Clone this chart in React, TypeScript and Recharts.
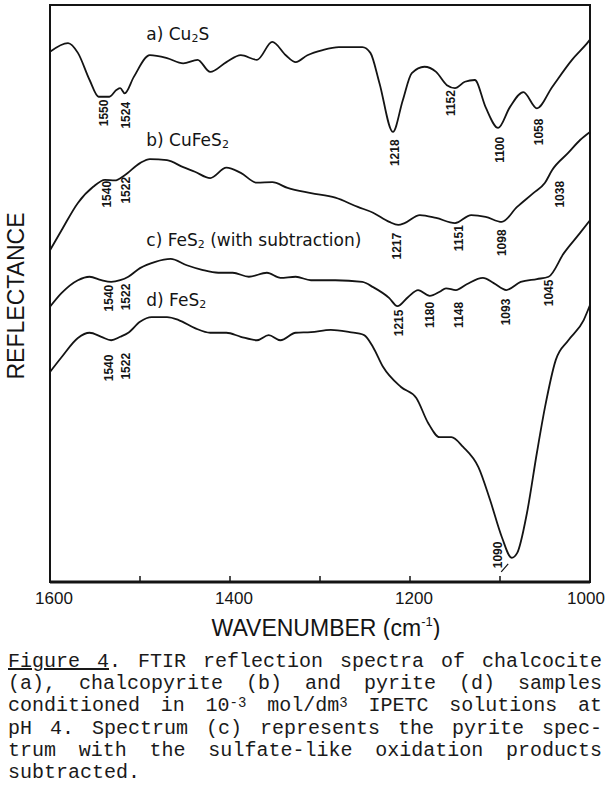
import React from "react";
import { LineChart, Line, XAxis, YAxis, ReferenceArea, ReferenceDot } from "recharts";

const xTicks = [1600, 1500, 1400, 1300, 1200, 1100, 1000];
const xTickLabels = [1600, 1400, 1200, 1000];

// a) Cu2S
const cu2sWn = [1600, 1580, 1569, 1556, 1546, 1534, 1526, 1522, 1517, 1507, 1489, 1470, 1452, 1436, 1422, 1404, 1388, 1370, 1353, 1338, 1327, 1314, 1297, 1279, 1253, 1244, 1234, 1219, 1208, 1198, 1184, 1171, 1159, 1150, 1139, 1128, 1116, 1102, 1089, 1074, 1059, 1042, 1020, 1002, 1000];
const cu2sR = [91.9, 93.4, 91.7, 87.0, 84.1, 84.1, 85.3, 85.6, 84.7, 87.5, 91.3, 90.8, 89.9, 90.5, 88.4, 90.1, 91.3, 90.5, 93.6, 91.3, 90.1, 91.3, 92.2, 92.7, 92.7, 91.7, 86.5, 78.0, 83.5, 88.2, 89.3, 88.4, 86.1, 85.6, 86.7, 87.0, 82.3, 78.7, 82.3, 84.9, 82.1, 85.8, 90.5, 93.6, 94.0];

// b) CuFeS2
const cufes2Wn = [1600, 1587, 1569, 1552, 1539, 1528, 1517, 1500, 1489, 1470, 1452, 1439, 1422, 1404, 1388, 1370, 1353, 1336, 1310, 1283, 1258, 1241, 1223, 1213, 1206, 1189, 1171, 1150, 1132, 1116, 1098, 1081, 1063, 1050, 1042, 1024, 1011, 1000];
const cufes2R = [57.5, 61.0, 65.7, 68.5, 69.7, 69.6, 70.5, 72.6, 73.3, 73.1, 71.9, 71.1, 70.0, 71.8, 70.9, 69.2, 69.3, 68.3, 67.4, 66.6, 65.0, 64.0, 62.4, 61.9, 62.2, 63.6, 63.1, 62.2, 63.6, 63.3, 62.4, 65.0, 67.4, 69.2, 71.4, 74.4, 76.6, 78.0];

// c) FeS2, sulfate subtracted
const fes2SubWn = [1600, 1587, 1569, 1556, 1543, 1532, 1522, 1513, 1500, 1483, 1466, 1448, 1431, 1413, 1397, 1379, 1359, 1344, 1327, 1310, 1283, 1253, 1241, 1223, 1214, 1202, 1191, 1178, 1167, 1160, 1149, 1137, 1119, 1107, 1093, 1077, 1059, 1046, 1029, 1011, 1000];
const fes2SubR = [47.7, 50.1, 52.3, 52.9, 52.3, 52.0, 52.3, 52.9, 54.4, 55.5, 56.0, 54.9, 54.1, 53.6, 53.6, 52.9, 53.6, 52.7, 52.9, 52.3, 52.3, 52.0, 51.1, 49.2, 47.8, 49.4, 50.6, 49.6, 50.3, 50.9, 50.6, 51.6, 52.7, 51.8, 50.6, 52.0, 52.5, 52.9, 57.0, 60.5, 62.7];

// d) FeS2
const fes2Wn = [1600, 1587, 1569, 1556, 1543, 1532, 1522, 1513, 1500, 1487, 1470, 1457, 1439, 1422, 1404, 1388, 1370, 1357, 1344, 1327, 1310, 1288, 1267, 1251, 1241, 1230, 1210, 1193, 1180, 1167, 1154, 1141, 1124, 1111, 1098, 1087, 1081, 1070, 1059, 1050, 1038, 1024, 1007, 1000];
const fes2R = [36.4, 39.0, 42.3, 43.2, 42.5, 41.9, 42.5, 43.2, 45.1, 45.9, 45.9, 45.4, 44.0, 43.2, 43.2, 42.5, 41.9, 42.8, 41.9, 43.2, 43.3, 43.7, 43.3, 42.8, 40.7, 37.3, 33.8, 31.9, 27.6, 25.1, 25.1, 23.4, 19.9, 14.2, 7.8, 4.2, 5.0, 12.0, 22.4, 30.3, 38.5, 41.9, 45.4, 48.0];

// peak annotations (text, where it sits)
const peakText = ["1550", "1524", "1218", "1152", "1100", "1058", "1540", "1522", "1217", "1151", "1098", "1038", "1540", "1522", "1215", "1180", "1148", "1093", "1045", "1540", "1522", "1090"];
const peakWn = [1540, 1516, 1217, 1154, 1100, 1057, 1537, 1516, 1214, 1146, 1098, 1033, 1534, 1516, 1212, 1178, 1146, 1093, 1046, 1534, 1516, 1102];
const peakR = [81.3, 80.9, 74.4, 83.0, 74.9, 78.0, 67.2, 67.9, 58.2, 59.6, 58.8, 67.2, 49.2, 49.4, 44.9, 46.3, 46.3, 46.8, 50.1, 37.1, 37.4, 4.7];

const titleHead = ["a) Cu", "b) CuFeS", "c) FeS", "d) FeS"];
const titleSub = ["2", "2", "2", "2"];
const titleTail = ["S", "", " (with subtraction)", ""];
const titleWn = [1493, 1493, 1493, 1493];
const titleR = [95.0, 76.6, 59.3, 48.9];

const toPoints = (wn: number[], r: number[]) => wn.map((w, i) => ({ wn: w, r: r[i] }));

const series = [
  toPoints(cu2sWn, cu2sR),
  toPoints(cufes2Wn, cufes2R),
  toPoints(fes2SubWn, fes2SubR),
  toPoints(fes2Wn, fes2R),
];

const INK = "#141414";
const SANS = "'Liberation Sans', Arial, sans-serif";
const LETTER = "'DejaVu Sans', 'Liberation Sans', sans-serif";

function PeakMark({ cx, cy, text }: { cx?: number; cy?: number; text: string }) {
  if (cx == null || cy == null) return null;
  return (
    <g>
      <text
        x={cx}
        y={cy}
        transform={`rotate(-90 ${cx} ${cy})`}
        textAnchor="middle"
        dominantBaseline="central"
        fontSize={12}
        fontWeight={700}
        fontFamily={SANS}
        fill={INK}
      >
        {text}
      </text>
      {text === "1090" && (
        <line x1={cx + 3} y1={cy + 17} x2={cx + 10} y2={cy + 9} stroke={INK} strokeWidth={1.2} />
      )}
    </g>
  );
}

function CurveTitle({ cx, cy, i }: { cx?: number; cy?: number; i: number }) {
  if (cx == null || cy == null) return null;
  return (
    <text x={cx} y={cy} dominantBaseline="central" fontSize={17} fontFamily={LETTER} fill={INK}>
      {titleHead[i]}
      <tspan fontSize={11} dy={4}>{titleSub[i]}</tspan>
      <tspan dy={-4}>{titleTail[i]}</tspan>
    </text>
  );
}

function XTick({ x, y, payload }: any) {
  const v = payload?.value;
  if (!xTickLabels.includes(v)) return null;
  // printed labels sit a little right of their ticks, except at the right edge
  const shift = v === 1000 ? -4 : 4;
  return (
    <text x={x + shift} y={y} dy={12} textAnchor="middle" fontSize={17} fontFamily={SANS} fill={INK}>
      {v}
    </text>
  );
}

const supStyle: React.CSSProperties = { fontSize: 14, position: "relative", top: -4 };
const justified: React.CSSProperties = { textAlign: "justify", textAlignLast: "justify" };

export default function App() {
  return (
    <div style={{ position: "absolute", left: 0, top: 0, width: 608, height: 797, background: "#fff" }}>
      <LineChart width={608} height={640} margin={{ top: 5, right: 18, bottom: 0, left: 8 }}>
        <XAxis
          dataKey="wn"
          type="number"
          domain={[1000, 1600]}
          reversed
          ticks={xTicks}
          interval={0}
          tickSize={-6}
          tickMargin={16}
          axisLine={{ stroke: INK, strokeWidth: 3 }}
          tickLine={{ stroke: INK, strokeWidth: 1.5 }}
          tick={<XTick />}
          height={58}
          label={{
            content: ({ viewBox }: any) => (
              <text
                x={viewBox.x + viewBox.width / 2 + 6}
                y={viewBox.y + 54}
                textAnchor="middle"
                fontSize={23}
                fontFamily={SANS}
                fill={INK}
              >
                WAVENUMBER (cm<tspan fontSize={13} dy={-10}>-1</tspan>
                <tspan dy={10}>)</tspan>
              </text>
            ),
          }}
        />
        <XAxis
          xAxisId="top"
          orientation="top"
          dataKey="wn"
          type="number"
          domain={[1000, 1600]}
          reversed
          ticks={xTicks}
          interval={0}
          tickFormatter={() => ""}
          tickSize={-6}
          axisLine={false}
          tickLine={{ stroke: INK, strokeWidth: 1.5 }}
          height={0}
        />
        <YAxis
          type="number"
          domain={[0, 100]}
          width={42}
          tick={false}
          tickLine={false}
          axisLine={false}
          label={{
            content: ({ viewBox }: any) => {
              const x = viewBox.x + 8;
              const y = viewBox.y + 291;
              return (
                <text
                  x={x}
                  y={y}
                  transform={`rotate(-90 ${x} ${y})`}
                  textAnchor="middle"
                  dominantBaseline="central"
                  fontSize={23}
                  fontFamily={SANS}
                  fill={INK}
                >
                  REFLECTANCE
                </text>
              );
            },
          }}
        />
        <ReferenceArea x1={1000} x2={1600} y1={0} y2={100} fill="none" stroke={INK} strokeWidth={2} />
        {series.map((pts, i) => (
          <Line
            key={i}
            data={pts}
            dataKey="r"
            type="monotone"
            stroke={INK}
            strokeWidth={1.8}
            dot={false}
            activeDot={false}
            isAnimationActive={false}
          />
        ))}
        {peakText.map((t, i) => (
          <ReferenceDot
            key={`p${i}`}
            x={peakWn[i]}
            y={peakR[i]}
            r={0}
            shape={(p: any) => <PeakMark cx={p.cx} cy={p.cy} text={t} />}
          />
        ))}
        {titleHead.map((_, i) => (
          <ReferenceDot
            key={`t${i}`}
            x={titleWn[i]}
            y={titleR[i]}
            r={0}
            shape={(p: any) => <CurveTitle cx={p.cx} cy={p.cy} i={i} />}
          />
        ))}
      </LineChart>
      <div
        style={{
          position: "absolute",
          left: 8,
          top: 651,
          width: 594,
          fontFamily: "'Liberation Mono', 'DejaVu Sans Mono', monospace",
          fontSize: 20,
          lineHeight: "22px",
          color: "#1a1a1a",
        }}
      >
        <div style={justified}>
          <span style={{ textDecoration: "underline" }}>Figure 4</span>. FTIR reflection spectra of chalcocite
        </div>
        <div style={justified}>(a), chalcopyrite (b) and pyrite (d) samples</div>
        <div style={justified}>
          conditioned in 10<span style={supStyle}>-3</span> mol/dm<span style={supStyle}>3</span> IPETC solutions at
        </div>
        <div style={justified}>pH 4. Spectrum (c) represents the pyrite spec-</div>
        <div style={justified}>trum with the sulfate-like oxidation products</div>
        <div>subtracted.</div>
      </div>
    </div>
  );
}
